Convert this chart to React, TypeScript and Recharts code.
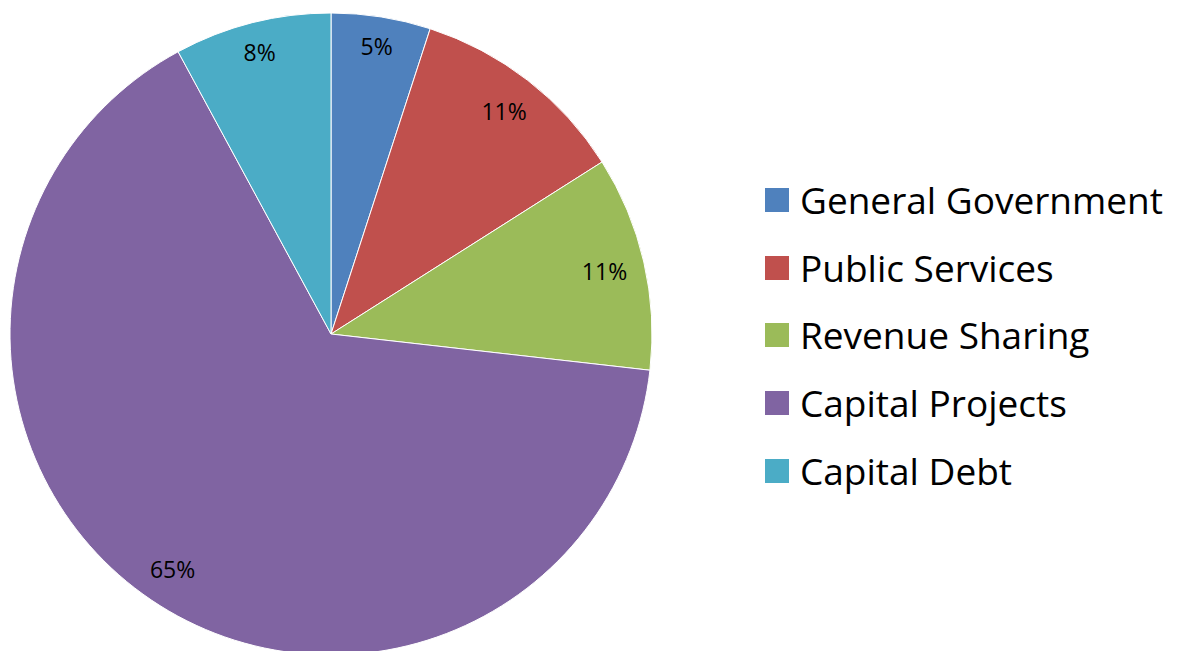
import React from "react";
import { PieChart, Pie, Cell, Legend } from "recharts";

const categories = ["General Government", "Public Services", "Revenue Sharing", "Capital Projects", "Capital Debt"];
const shares = [5.0, 11.0, 10.8, 65.3, 7.9];
const percentLabels = ["5%", "11%", "11%", "65%", "8%"];
const colors = ["#4F81BD", "#C0504D", "#9BBB59", "#8064A2", "#4BACC6"];

const data = categories.map((name, i) => ({ name, value: shares[i], label: percentLabels[i] }));

const FONT = "'Open Sans', sans-serif";
const LABEL_SIZE = 23;
const RAD = Math.PI / 180;

const renderLabel = (props: any) => {
  const { cx, cy, midAngle, outerRadius, index } = props;
  const text = percentLabels[index];
  const w = text.length * LABEL_SIZE * 0.65;
  const h = LABEL_SIZE * 0.95;
  const ux = Math.cos(-midAngle * RAD);
  const uy = Math.sin(-midAngle * RAD);
  const sx = (ux >= 0 ? 1 : -1) * (w / 2);
  const sy = (uy >= 0 ? 1 : -1) * (h / 2);
  const R = outerRadius - 16;
  const us = ux * sx + uy * sy;
  const d = -us + Math.sqrt(us * us - (sx * sx + sy * sy) + R * R);
  const x = cx + d * ux;
  const y = cy + d * uy;
  return (
    <text
      x={x}
      y={y}
      fill="#000"
      textAnchor="middle"
      dominantBaseline="central"
      fontFamily={FONT}
      fontSize={LABEL_SIZE}
    >
      {text}
    </text>
  );
};

const renderLegend = () => {
  return (
    <div style={{ display: "flex", flexDirection: "column" }}>
      {categories.map((name, i) => (
        <div key={name} style={{ display: "flex", alignItems: "center", height: 67.7 }}>
          <div style={{ width: 24, height: 24, background: colors[i], marginRight: 11 }} />
          <span style={{ fontFamily: FONT, fontSize: 37, color: "#000", lineHeight: "40px" }}>
            {name}
          </span>
        </div>
      ))}
    </div>
  );
};

export default function App() {
  return (
    <div style={{ position: "absolute", left: 0, top: 0, width: 1178, height: 651, background: "#fff" }}>
      <PieChart width={1178} height={651} margin={{ top: 0, right: 0, bottom: 0, left: 0 }}>
        <Pie
          data={data}
          dataKey="value"
          nameKey="name"
          cx={331}
          cy={334}
          outerRadius={321}
          startAngle={90}
          endAngle={-270}
          stroke="#ffffff"
          strokeWidth={1}
          label={renderLabel}
          labelLine={false}
          isAnimationActive={false}
        >
          {data.map((d, i) => (
            <Cell key={d.name} fill={colors[i]} />
          ))}
        </Pie>
        <Legend
          layout="vertical"
          content={renderLegend}
          wrapperStyle={{ position: "absolute", left: 765, top: 166, width: 413, bottom: "auto", right: "auto" }}
        />
      </PieChart>
    </div>
  );
}
